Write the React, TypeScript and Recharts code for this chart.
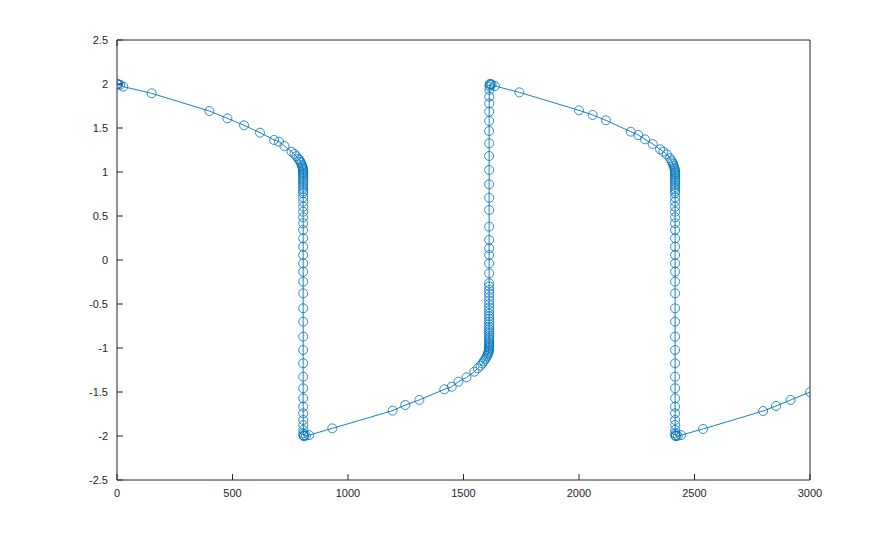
import { LineChart, Line, XAxis, YAxis } from "recharts";

// slow branch, y from 2 down to 1
const slow1T = [0, 2, 6, 14, 27, 150, 400, 478, 550, 619, 680, 701, 725, 756, 768, 776, 785, 790, 794, 797, 800, 802, 803.5, 804.8, 805.5, 805.9];
const slow1Y = [2.0, 1.999, 1.996, 1.99, 1.97, 1.894, 1.693, 1.61, 1.531, 1.447, 1.364, 1.345, 1.295, 1.231, 1.205, 1.18, 1.15, 1.135, 1.115, 1.1, 1.08, 1.065, 1.05, 1.035, 1.02, 1.005];

// fast jump down to -2
const jump1T = [806, 806, 806, 806, 806, 806, 806, 806, 806, 806, 806, 806, 806, 806, 806, 806, 806, 806, 806, 806, 806, 806, 806, 806, 806, 806, 806, 806, 806, 806, 806, 806, 806, 806, 806.1, 806.1, 806.2, 806.3, 806.5, 806.8, 807.3, 808];
const jump1Y = [0.99, 0.975, 0.96, 0.94, 0.92, 0.9, 0.88, 0.855, 0.83, 0.805, 0.78, 0.758, 0.712, 0.663, 0.606, 0.549, 0.485, 0.417, 0.341, 0.246, 0.151, 0.057, -0.038, -0.133, -0.246, -0.379, -0.549, -0.701, -0.871, -1.023, -1.174, -1.326, -1.458, -1.572, -1.667, -1.742, -1.818, -1.875, -1.932, -1.97, -1.99, -2.0];

// slow branch, y from -2 up to -1
const slow2T = [810, 818, 832, 932, 1193, 1248, 1309, 1417, 1449, 1478, 1513, 1547, 1562, 1574, 1582, 1588, 1594, 1598, 1602, 1605, 1607, 1608.5, 1609.5, 1610.3, 1610.8];
const slow2Y = [-2.0, -1.995, -1.99, -1.913, -1.712, -1.648, -1.59, -1.47, -1.44, -1.383, -1.333, -1.269, -1.231, -1.2, -1.175, -1.15, -1.13, -1.11, -1.09, -1.075, -1.06, -1.045, -1.03, -1.015, -1.0];

// fast jump up to 2
const jump2T = [1611, 1611, 1611, 1611, 1611, 1611, 1611, 1611, 1611, 1611, 1611, 1611, 1611, 1611, 1611, 1611, 1611, 1611, 1611, 1611, 1611, 1611, 1611, 1611, 1611, 1611, 1611, 1611, 1611, 1611, 1611, 1611, 1611, 1611, 1611, 1611, 1611, 1611, 1611, 1611.1, 1611.2, 1611.4, 1611.7, 1612.1, 1612.6, 1613.2, 1614];
const jump2Y = [-0.985, -0.97, -0.955, -0.94, -0.92, -0.9, -0.88, -0.86, -0.835, -0.81, -0.785, -0.76, -0.73, -0.7, -0.67, -0.64, -0.61, -0.575, -0.54, -0.5, -0.46, -0.42, -0.38, -0.34, -0.3, -0.265, -0.152, -0.038, 0.057, 0.133, 0.227, 0.379, 0.568, 0.708, 0.86, 1.023, 1.182, 1.326, 1.466, 1.58, 1.686, 1.78, 1.856, 1.932, 1.97, 1.989, 2.0];

// slow branch, y from 2 down to 1
const slow3T = [1617, 1622, 1636, 1742, 2000, 2059, 2117, 2224, 2257, 2286, 2319, 2351, 2365, 2380, 2394, 2400, 2404, 2407, 2410, 2412.5, 2414, 2415, 2415.6];
const slow3Y = [2.0, 1.995, 1.977, 1.905, 1.701, 1.648, 1.587, 1.458, 1.42, 1.371, 1.318, 1.258, 1.231, 1.201, 1.156, 1.13, 1.11, 1.09, 1.07, 1.05, 1.035, 1.02, 1.005];

// fast jump down to -2
const jump3T = [2416, 2416, 2416, 2416, 2416, 2416, 2416, 2416, 2416, 2416, 2416, 2416, 2416, 2416, 2416, 2416, 2416, 2416, 2416, 2416, 2416, 2416, 2416, 2416, 2416, 2416, 2416, 2416, 2416, 2416, 2416, 2416, 2416, 2416, 2416.1, 2416.1, 2416.2, 2416.3, 2416.5, 2416.8, 2417.3, 2418];
const jump3Y = [0.99, 0.975, 0.96, 0.94, 0.92, 0.9, 0.88, 0.855, 0.83, 0.805, 0.78, 0.758, 0.712, 0.663, 0.606, 0.549, 0.485, 0.417, 0.341, 0.246, 0.151, 0.057, -0.038, -0.133, -0.246, -0.379, -0.549, -0.701, -0.871, -1.023, -1.174, -1.326, -1.458, -1.572, -1.667, -1.742, -1.818, -1.875, -1.932, -1.97, -1.99, -2.0];

// slow branch, y from -2 towards -1.5
const slow4T = [2420, 2428, 2442, 2537, 2797, 2853, 2916, 3000];
const slow4Y = [-2.0, -1.997, -1.99, -1.92, -1.716, -1.659, -1.591, -1.5];

const xTicks = [0, 500, 1000, 1500, 2000, 2500, 3000];
const yTicks = [-2.5, -2, -1.5, -1, -0.5, 0, 0.5, 1, 1.5, 2, 2.5];

const allT = [...slow1T, ...jump1T, ...slow2T, ...jump2T, ...slow3T, ...jump3T, ...slow4T];
const allY = [...slow1Y, ...jump1Y, ...slow2Y, ...jump2Y, ...slow3Y, ...jump3Y, ...slow4Y];
const data = allT.map((t, i) => ({ t, y: allY[i] }));

const ink = "#262626";
const blue = "#0072BD";
const font = "'Liberation Sans', Arial, sans-serif";
const TICK = 6;
const GAP = 9;

// inward tick marks (MATLAB style) plus labels
const BottomTick = (props: any) => {
  const { x, y, payload } = props;
  const base = y - GAP;
  return (
    <g>
      <line x1={x} x2={x} y1={base} y2={base - TICK} stroke={ink} strokeWidth={1} />
      <text x={x} y={y} dy="0.71em" textAnchor="middle" fontSize={11} fontFamily={font} fill={ink}>
        {payload.value}
      </text>
    </g>
  );
};

const LeftTick = (props: any) => {
  const { x, y, payload } = props;
  const base = x + GAP;
  return (
    <g>
      <line x1={base} x2={base + TICK} y1={y} y2={y} stroke={ink} strokeWidth={1} />
      <text x={x} y={y} dy="0.355em" textAnchor="end" fontSize={11} fontFamily={font} fill={ink}>
        {payload.value}
      </text>
    </g>
  );
};

const TopTick = (props: any) => {
  const { x, y } = props;
  return <line x1={x} x2={x} y1={y} y2={y + TICK} stroke={ink} strokeWidth={1} />;
};

const RightTick = (props: any) => {
  const { x, y } = props;
  return <line x1={x} x2={x - TICK} y1={y} y2={y} stroke={ink} strokeWidth={1} />;
};

export default function App() {
  return (
    <div style={{ position: "absolute", left: 0, top: 0, width: 895, height: 540, background: "#fff" }}>
      <LineChart width={895} height={540} data={data} margin={{ top: 39, right: 84, bottom: 30, left: 77 }}>
        <XAxis
          dataKey="t"
          type="number"
          domain={[0, 3000]}
          ticks={xTicks}
          interval={0}
          allowDataOverflow
          height={30}
          stroke={ink}
          tickLine={false}
          tickSize={0}
          tickMargin={GAP}
          tick={BottomTick}
        />
        <XAxis
          xAxisId="top"
          orientation="top"
          type="number"
          domain={[0, 3000]}
          ticks={xTicks}
          interval={0}
          height={1}
          stroke={ink}
          tickLine={false}
          tickSize={0}
          tickMargin={0}
          tick={TopTick}
        />
        <YAxis
          type="number"
          domain={[-2.5, 2.5]}
          ticks={yTicks}
          interval={0}
          allowDataOverflow
          width={40}
          stroke={ink}
          tickLine={false}
          tickSize={0}
          tickMargin={GAP}
          tick={LeftTick}
        />
        <YAxis
          yAxisId="right"
          orientation="right"
          type="number"
          domain={[-2.5, 2.5]}
          ticks={yTicks}
          interval={0}
          width={1}
          stroke={ink}
          tickLine={false}
          tickSize={0}
          tickMargin={0}
          tick={RightTick}
        />
        <Line
          dataKey="y"
          stroke={blue}
          strokeWidth={0.9}
          dot={{ r: 4.5, stroke: blue, strokeWidth: 0.8, fill: "none" }}
          isAnimationActive={false}
        />
      </LineChart>
    </div>
  );
}
